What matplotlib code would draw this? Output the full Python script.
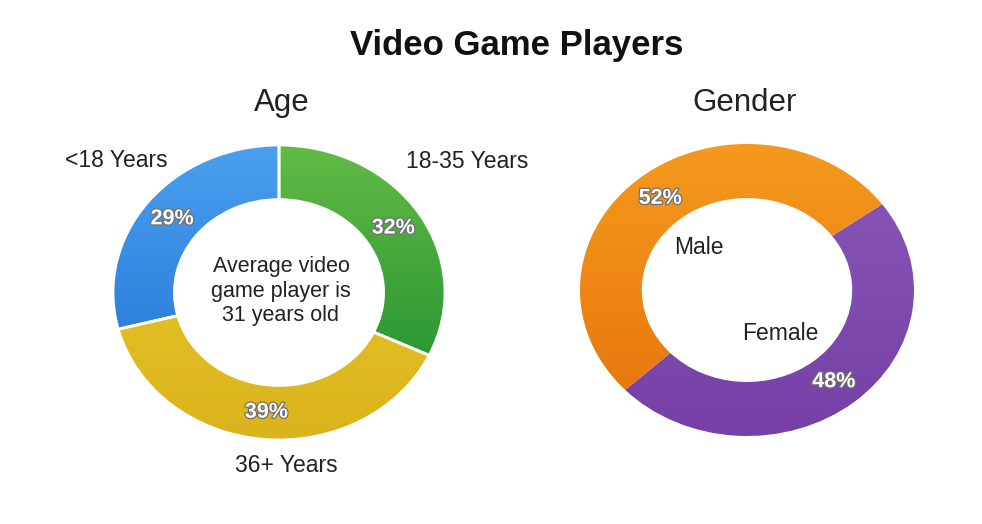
import matplotlib
matplotlib.use("Agg")
import matplotlib.pyplot as plt
import matplotlib.patheffects as pe
import numpy as np
from matplotlib.colors import LinearSegmentedColormap

plt.rcParams['font.family'] = ['Liberation Sans', 'DejaVu Sans']

# data
age_labels = ['18-35 Years', '36+ Years', '<18 Years']
age_values = [32, 39, 29]
gender_labels = ['Female', 'Male']
gender_values = [48, 52]

# (top colour, bottom colour) per slice
age_colors = [('#62bb46', '#16892b'), ('#ebcc30', '#dbb31c'), ('#4aa0ee', '#1c6ed2')]
gender_colors = [('#8a58b8', '#7640a6'), ('#f59a1e', '#e6720c')]

W, H = 982, 524


def fig_box(x0, y0, x1, y1):
    # pixel box (top-left origin) -> figure fraction rect
    return [x0 / W, 1 - y1 / H, (x1 - x0) / W, (y1 - y0) / H]


def donut(ax, values, colors, start, edge):
    wedges, _, pcts = ax.pie(values, startangle=start, counterclock=False,
                             radius=1.0, autopct='%.0f%%', pctdistance=0.815,
                             wedgeprops=dict(width=0.37, edgecolor='white', linewidth=edge))
    ax.set_aspect('auto')
    ax.set_xlim(-1.0, 1.0)
    ax.set_ylim(-1.0, 1.0)
    ax.axis('off')
    grad = np.linspace(1, 0, 256).reshape(-1, 1)
    for w, (c_top, c_bot) in zip(wedges, colors):
        cmap = LinearSegmentedColormap.from_list('g', [c_bot, c_top])
        im = ax.imshow(grad, cmap=cmap, extent=(-1, 1, -1, 1), aspect='auto',
                       origin='upper', zorder=1, vmin=0, vmax=1)
        im.set_clip_path(w)
        w.set_facecolor('none')
        w.set_zorder(2)
    for t in pcts:
        t.set_color('white')
        t.set_fontsize(15.5)
        t.set_fontweight('bold')
        t.set_zorder(3)
        t.set_path_effects([pe.withStroke(linewidth=1.8, foreground='#707070')])
    return wedges


fig = plt.figure(figsize=(W / 100, H / 100), dpi=100)

ax1 = fig.add_axes(fig_box(113, 145, 445, 440))
donut(ax1, age_values, age_colors, 90, 2.0)

ax2 = fig.add_axes(fig_box(580, 144, 914, 436))
donut(ax2, gender_values, gender_colors, 36, 0)

ink = '#222222'
fig.text(517 / W, 1 - 45 / H, 'Video Game Players', ha='center', va='center',
         fontsize=25, fontweight='bold', color='#111111')
fig.text(282 / W, 1 - 103 / H, 'Age', ha='center', va='center', fontsize=22.5, color=ink)
fig.text(745 / W, 1 - 103 / H, 'Gender', ha='center', va='center', fontsize=22.5, color=ink)

fig.text(116 / W, 1 - 160 / H, age_labels[2], ha='center', va='center', fontsize=16.5, color=ink)
fig.text(467 / W, 1 - 162 / H, age_labels[0], ha='center', va='center', fontsize=16.5, color=ink)
fig.text(286 / W, 1 - 466 / H, age_labels[1], ha='center', va='center', fontsize=16.5, color=ink)

fig.text(281 / W, 1 - 291 / H, 'Average video\ngame player is\n31 years old', ha='center',
         va='center', fontsize=15.5, color=ink, linespacing=1.2)

fig.text(699 / W, 1 - 248 / H, gender_labels[1], ha='center', va='center', fontsize=16.5, color=ink)
fig.text(780 / W, 1 - 334 / H, gender_labels[0], ha='center', va='center', fontsize=16.5, color=ink)

fig.savefig('out.png', dpi=100, facecolor='white')
